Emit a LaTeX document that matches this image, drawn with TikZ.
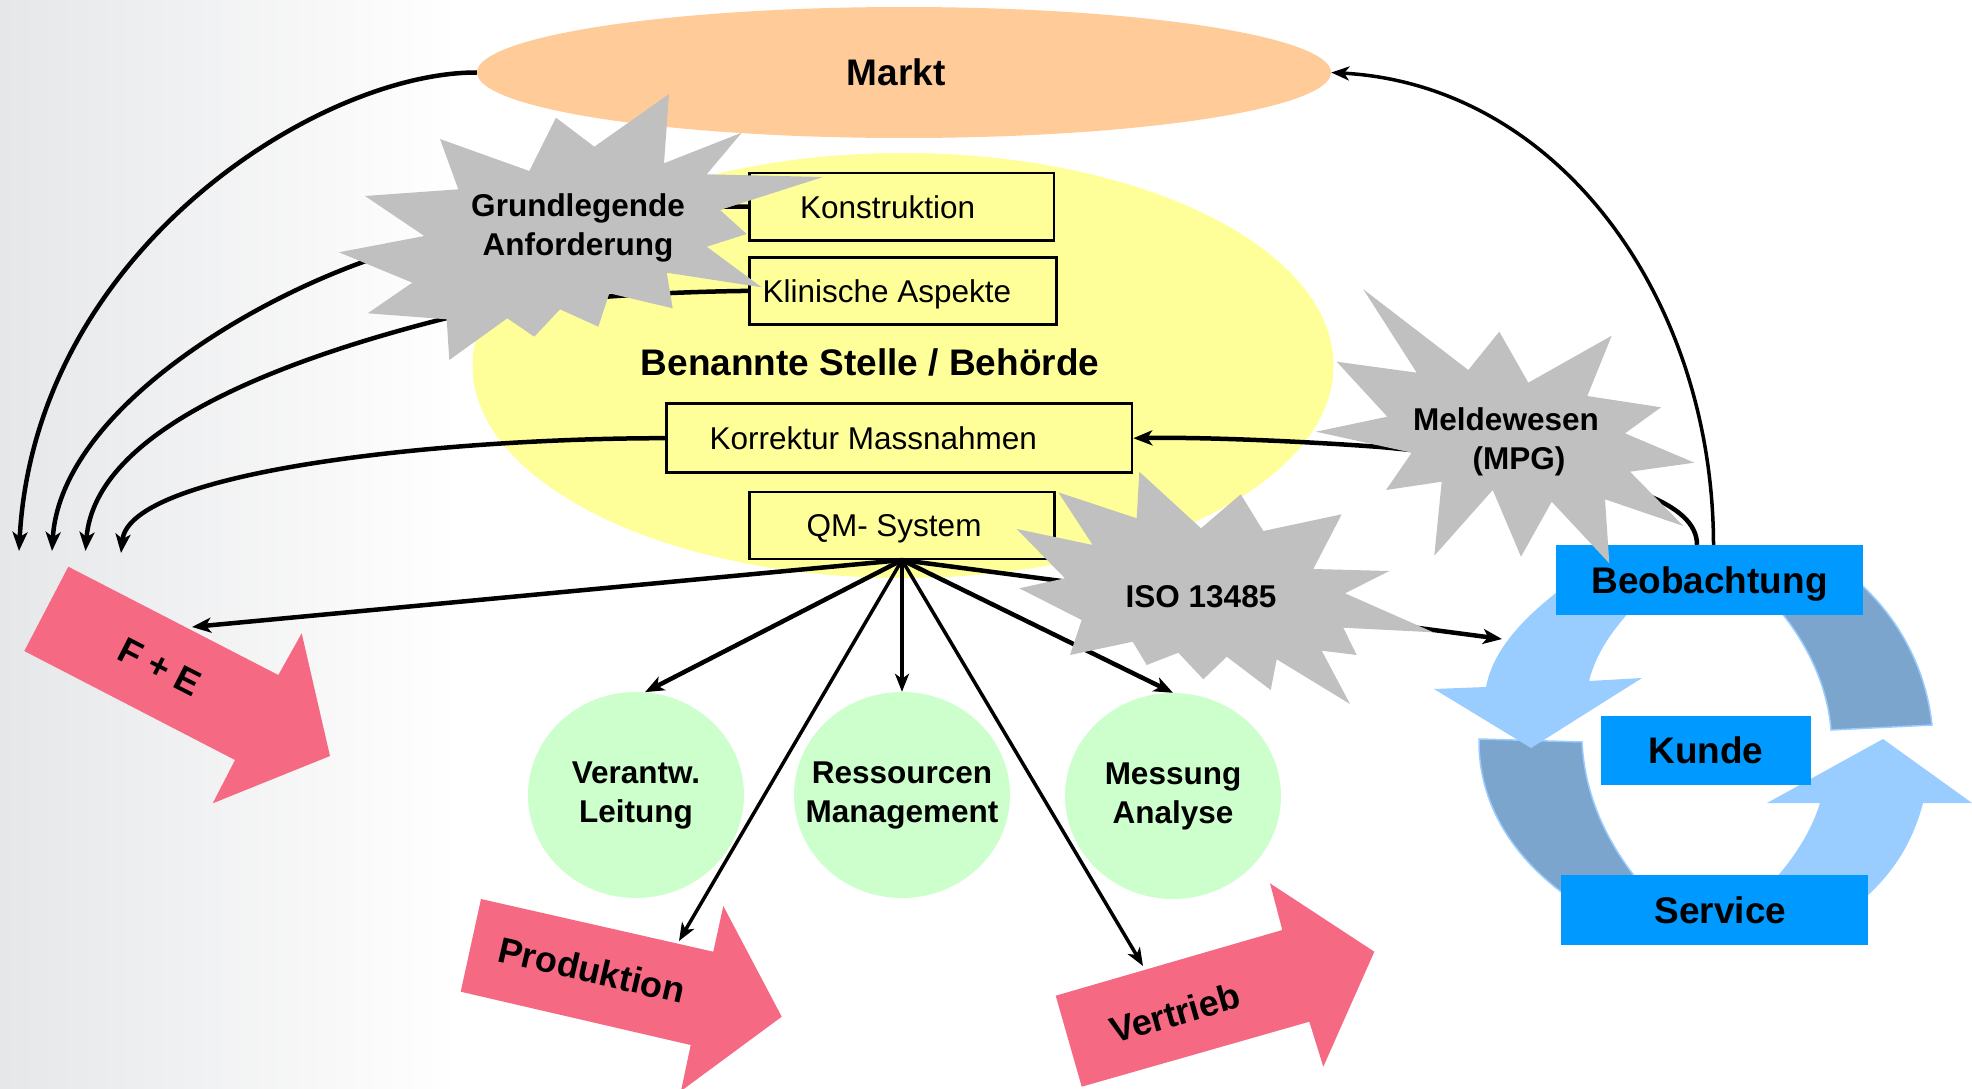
\documentclass[tikz,border=0pt]{standalone}
\usepackage{fontspec}
\setmainfont{Liberation Sans}
\usetikzlibrary{shapes.geometric,arrows.meta}
\definecolor{marktfarbe}{HTML}{FFCC99}
\definecolor{gelb}{HTML}{FFFF99}
\definecolor{gruen}{HTML}{CCFFCC}
\definecolor{grau}{HTML}{C0C0C0}
\definecolor{rosa}{HTML}{F56983}
\definecolor{blau}{HTML}{0099FF}
\definecolor{hellblau}{HTML}{99CCFF}
\definecolor{dunkelblau}{HTML}{7CA5CE}
\definecolor{bggrau}{HTML}{E6E7E9}
\tikzset{
  fsn/.style={font=\fontsize{31.5}{39}\selectfont},
  fsb/.style={font=\bfseries\fontsize{31.5}{39}\selectfont},
  fsl/.style={font=\bfseries\fontsize{37}{44}\selectfont},
  fsp/.style={font=\bfseries\fontsize{36}{42}\selectfont},
  ybox/.style={draw=black, line width=2.5pt, fill=gelb, inner sep=0pt, text depth=0pt, fsn},
  bbox/.style={fill=blau, inner sep=0pt, text depth=0pt, fsl},
  kreis/.style={ellipse, fill=gruen, minimum width=216pt, minimum height=206pt, inner sep=-40pt, fsb, align=center},
  lbl/.style={fsb, align=center, inner sep=0pt},
  rosapfeil/.style={fill=rosa},
  stern/.style={fill=grau},
  dunkelbogen/.style={fill=dunkelblau, draw=hellblau, line width=1.5pt},
  hellbogen/.style={fill=hellblau},
  con/.style={line width=4.5pt, -{Stealth[length=19pt,width=15pt,inset=5pt]}},
  cont/.style={line width=3.5pt, -{Stealth[length=18pt,width=14pt,inset=5pt]}},
}
\begin{document}
\begin{tikzpicture}[x=1pt,y=-1pt]
\useasboundingbox (0,0) rectangle (1972,1089);
\fill[white] (0,0) rectangle (1972,1089);
\shade[left color=bggrau, right color=white] (0,0) rectangle (460,1089);

% ellipses
\node[ellipse, fill=marktfarbe, minimum width=854pt, minimum height=131pt, inner sep=0pt, fsl] (markt) at (904,72.5) {\hspace*{-16pt}Markt};
\node[ellipse, fill=gelb, minimum width=861pt, minimum height=425pt, inner sep=0pt] (stelle) at (903,365.5) {};
\node[fsl, inner sep=0pt] (stelletext) at (870,362) {Benannte Stelle / Behörde};

% blue cycle
\path[dunkelbogen] (1479,739) .. controls (1478,800) and (1510,860) .. (1580,905) -- (1650,895) .. controls (1610,850) and (1585,800) .. (1582,742) -- cycle;
\path[dunkelbogen] (1830,560) .. controls (1890,600) and (1925,660) .. (1932,725) -- (1831,730) .. controls (1828,690) and (1810,645) .. (1775,605) -- cycle;
\path[hellbogen] (1610,555) .. controls (1540,600) and (1495,640) .. (1486,687) -- (1434,689) -- (1531,748) -- (1642,678) -- (1589,681) .. controls (1597,650) and (1615,625) .. (1650,590) -- cycle;
\path[hellbogen] (1760,895) .. controls (1790,865) and (1810,835) .. (1820,803) -- (1767,803) -- (1883,739) -- (1972,803) -- (1923,803) .. controls (1912,845) and (1890,880) .. (1850,910) -- cycle;
\node[bbox, minimum width=307.6pt, minimum height=70pt] (beob) at (1709.5,580) {Beobachtung};
\node[bbox, minimum width=209.7pt, minimum height=69.3pt] (kunde) at (1705.9,750.4) {Kunde};
\node[bbox, minimum width=307.6pt, minimum height=70pt] (service) at (1714.5,910) {\hspace*{12pt}Service};

% pink arrows
\fill[rosapfeil] (68.3,566.7) -- (278.3,675) -- (301.7,633.3) -- (330,756) -- (212.7,803.3) -- (235,760) -- (24.3,651) -- cycle;
\fill[rosapfeil] (481,899) -- (713.3,951.7) -- (723.3,906) -- (781.7,1016.7) -- (681,1091) -- (690.7,1045) -- (460.7,991.7) -- cycle;
\fill[rosapfeil] (1055.7,995.7) -- (1282.3,930) -- (1270,883.3) -- (1374.3,951.7) -- (1323.3,1066.7) -- (1309.3,1021.7) -- (1081.7,1086.7) -- cycle;
\node[fsp, rotate=-27] (fe) at (160,667) {F + E};
\node[fsp, rotate=-13] (prod) at (592,970) {Produktion};
\node[fsp, rotate=16] (vert) at (1175,1013) {Vertrieb};

% green circles
\node[kreis] (verantw) at (636,795) {Verantw.\\Leitung};
\node[kreis] (ressourcen) at (902,795) {Ressourcen\\Management};
\node[kreis] (messung) at (1173,796) {Messung\\Analyse};

% yellow boxes
\node[ybox, minimum width=304.6pt, minimum height=67.3pt] (konst) at (901.7,206.7) {\hspace*{-28pt}Konstruktion};
\node[ybox, minimum width=307pt, minimum height=67.3pt] (klin) at (903,290.9) {\hspace*{-32pt}Klinische Aspekte};
\node[ybox, minimum width=465.5pt, minimum height=69pt] (korr) at (899.3,438.2) {\hspace*{-52pt}Korrektur Massnahmen};
\node[ybox, minimum width=305pt, minimum height=67pt] (qm) at (902,525.3) {\hspace*{-16pt}QM- System};

% connector end points
\coordinate (fetop) at (192,627);
\coordinate (prodtop) at (679,941);
\coordinate (verttop) at (1143,966);
\coordinate (kreisin) at (1502,639);
\coordinate (l1) at (19,551);
\coordinate (l2) at (52,551);
\coordinate (l3) at (85.5,551);
\coordinate (l4) at (121,553);

% connectors from QM
\draw[con] (qm.south) -- (fetop);
\draw[con] (qm.south) -- (verantw.85);
\draw[cont] (qm.south) -- (ressourcen.north);
\draw[con] (qm.south) -- (messung.north);
\draw[cont] (qm.south) -- (prodtop);
\draw[cont] (qm.south) -- (verttop);
\draw[con] (qm.south) -- (kreisin);

% left curves
\draw[con] (markt.west) .. controls (320,72) and (35,250) .. (l1);
\draw[con] (konst.west) .. controls (600,205) and (420,240) .. (363,262) .. controls (230,310) and (60,420) .. (l2);
\draw[con] (klin.west) .. controls (650,292) and (520,300) .. (447,318) .. controls (280,360) and (95,430) .. (l3);
\draw[con] (korr.west) .. controls (450,438) and (130,470) .. (l4);

% right curves
\draw[cont] ([xshift=4pt]beob.north) .. controls (1713,300) and (1560,85) .. (markt.east);
\draw[con] ([xshift=-12.5pt]beob.north) .. controls (1697,505) and (1630,470) .. (1380,447) .. controls (1300,441) and (1200,437) .. (korr.east);

% explosion shapes
\fill[stern] (669,94) -- (664,163.3) -- (741.7,132.7) -- (706.7,174.3) -- (823,177) -- (720,210) -- (746.7,234) -- (706.7,246.7) -- (761.7,287.3) -- (666.7,272.7) -- (672.7,308.3) -- (609.3,293.3) -- (598.3,326.7) -- (560,309.3) -- (534.3,336.7) -- (507.3,318.3) -- (449.3,360) -- (446.7,319.3) -- (367.7,313.3) -- (412.3,282.7) -- (339,252.3) -- (424.3,236) -- (365,196) -- (458.3,189.3) -- (440,139) -- (529.3,171) -- (556,117.7) -- (594.3,146.7) -- cycle;
\node[lbl] (grund) at (578,228) {Grundlegende\\Anforderung};

\fill[stern] (1363.3,289.3) -- (1416.7,372.7) -- (1336.7,361.7) -- (1387.3,416.7) -- (1316,431.7) -- (1411.7,452.7) -- (1386,490) -- (1441.7,481.7) -- (1434.3,555.7) -- (1492.7,490) -- (1521,556.7) -- (1551.7,501.7) -- (1609.3,563.3) -- (1605,499.3) -- (1683.3,526) -- (1630,471.7) -- (1694.3,462.7) -- (1625,433.3) -- (1661,407.3) -- (1587.3,396) -- (1611.7,335.7) -- (1528.3,382.7) -- (1499.3,331.7) -- (1468.3,370) -- cycle;
\node[lbl] (meld) at (1506,442) {Meldewesen\\\hspace*{26pt}(MPG)};

\fill[stern] (1139.3,471.7) -- (1201,528.3) -- (1240.7,494.3) -- (1263.3,531) -- (1341.7,514.3) -- (1313.3,569) -- (1389.3,571) -- (1345,593.3) -- (1433.3,632.3) -- (1343.3,627.7) -- (1356.7,655) -- (1321.7,650.7) -- (1350,704) -- (1276.7,659.3) -- (1270.7,690) -- (1226.7,656.7) -- (1203.3,679.3) -- (1178.3,652.7) -- (1146.7,665) -- (1132.7,641.7) -- (1070,655) -- (1081.7,620) -- (1019.3,588.3) -- (1065,578.3) -- (1016.7,529) -- (1092.7,545) -- (1058.3,492.3) -- (1136.7,518.3) -- cycle;
\node[lbl] (iso) at (1201,597) {ISO 13485};
\end{tikzpicture}
\end{document}
